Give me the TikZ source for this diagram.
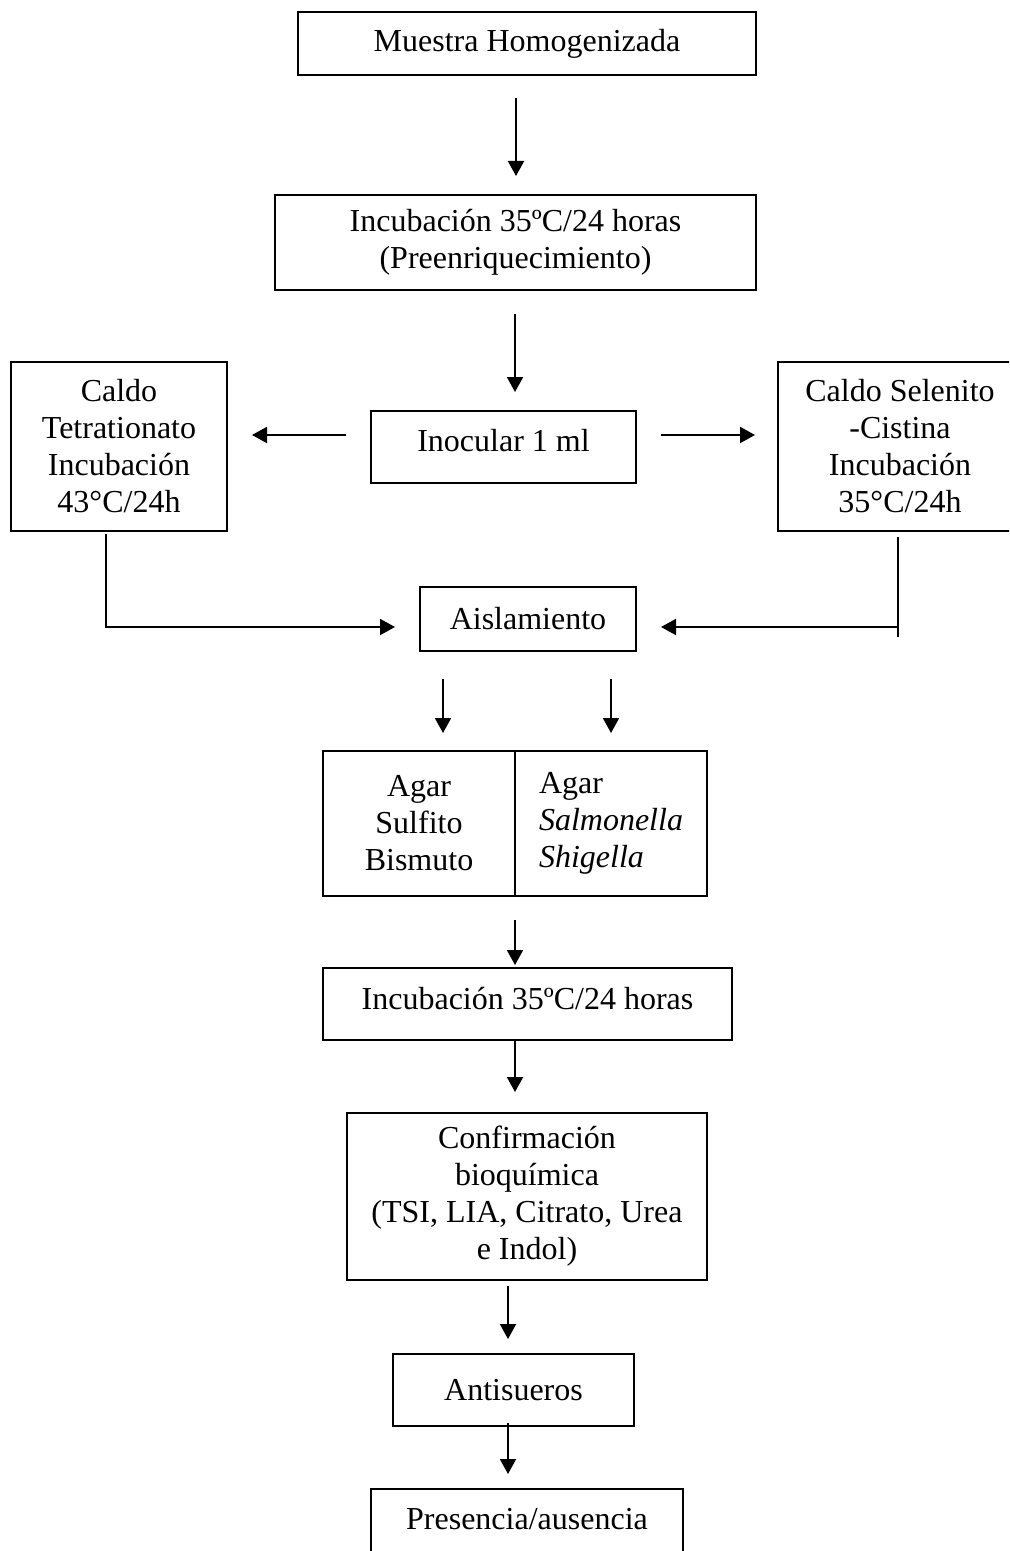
\documentclass[tikz,border=0pt]{standalone}
\usepackage{fontspec}
\setmainfont{Liberation Serif}
\usetikzlibrary{arrows.meta}
\begin{document}
\begin{tikzpicture}[x=0.5pt,y=-0.5pt,
  box/.style={draw, line width=1pt, inner sep=0pt, align=center,
    font=\fontsize{16pt}{18.5pt}\selectfont},
  arr/.style={line width=1pt, -{Triangle[width=8pt,length=7.5pt]}},
  plainline/.style={line width=1pt}]
\useasboundingbox (0,0) rectangle (1009,1551);
\clip (0,0) rectangle (1009,1551);

\node[box, minimum width=229pt, minimum height=31.5pt] (m) at (527,43.5) {Muestra Homogenizada};
\node[box, minimum width=240.5pt, minimum height=47.5pt] (inc1) at (515.5,242.5) {Incubación 35ºC/24 horas\\(Preenriquecimiento)};
\node[box, minimum width=132.5pt, minimum height=36pt, text height=11pt, text depth=7pt] (inoc) at (503.5,447) {Inocular 1 ml};
\node[box, minimum width=108pt, minimum height=84.5pt] (ct) at (119,446.5) {Caldo\\Tetrationato\\Incubación\\43°C/24h};
\node[box, minimum width=122pt, minimum height=84.5pt] (cs) at (900,446.5) {Caldo Selenito\\-Cistina\\Incubación\\35°C/24h};
\node[box, minimum width=108pt, minimum height=32pt] (aisl) at (528,619) {Aislamiento};
\node[box, minimum width=96pt, minimum height=72.5pt] (agarL) at (419,823.5) {Agar\\Sulfito\\Bismuto};
\node[box, minimum width=96pt, minimum height=72.5pt, align=left] (agarR) at (611,823.5) {Agar\\\textit{Salmonella}\\\textit{Shigella}};
\node[box, minimum width=204.5pt, minimum height=36pt, text height=11pt, text depth=6pt] (inc2) at (527.5,1004) {Incubación 35ºC/24 horas};
\node[box, minimum width=180pt, minimum height=83.5pt] (conf) at (527,1196.5) {Confirmación\\bioquímica\\(TSI, LIA, Citrato, Urea\\e Indol)};
\node[box, minimum width=120.5pt, minimum height=36pt] (anti) at (513.5,1390) {Antisueros};
\node[box, minimum width=156pt, minimum height=36pt, text height=11pt, text depth=7pt] (pres) at (527,1525) {Presencia/ausencia};

\draw[arr, shorten <=11pt, shorten >=9pt] (516,0 |- m.south) -- (516,0 |- inc1.north);
\draw[arr, shorten <=11.5pt, shorten >=9pt] (515,0 |- inc1.south) -- (515,0 |- inoc.north);
\draw[arr, shorten <=12pt, shorten >=12pt] (inoc.west |- 0,435) -- (ct.east |- 0,435);
\draw[arr, shorten <=12pt, shorten >=11pt] (inoc.east |- 0,435) -- (cs.west |- 0,435);
\draw[arr, shorten <=1pt, shorten >=12pt] (106,0 |- ct.south) |- (aisl.west |- 0,627);
\coordinate (rj) at (898,627);
\coordinate (rb) at (898,637);
\draw[plainline, shorten <=2.5pt] (898,0 |- cs.south) -- (rb);
\draw[arr, shorten >=12pt] (rj) -- (aisl.east |- rj);
\draw[arr, shorten <=13.5pt, shorten >=8.5pt] (443,0 |- aisl.south) -- (443,0 |- agarL.north);
\draw[arr, shorten <=13.5pt, shorten >=8.5pt] (611,0 |- aisl.south) -- (611,0 |- agarR.north);
\draw[arr, shorten <=11.5pt, shorten >=1pt] (515,0 |- agarL.south) -- (515,0 |- inc2.north);
\draw[arr, shorten >=10pt] (515,0 |- inc2.south) -- (515,0 |- conf.north);
\draw[arr, shorten <=2.5pt, shorten >=7pt] (508,0 |- conf.south) -- (508,0 |- anti.north);
\draw[arr, shorten <=-2pt, shorten >=7pt] (508,0 |- anti.south) -- (508,0 |- pres.north);
\end{tikzpicture}
\end{document}
